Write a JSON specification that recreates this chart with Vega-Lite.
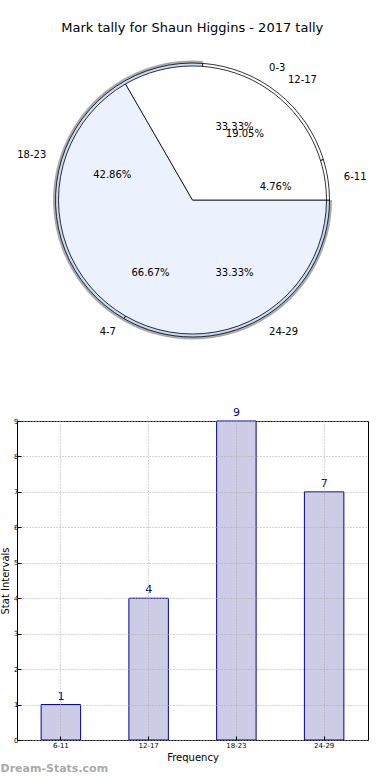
{
  "$schema": "https://vega.github.io/schema/vega-lite/v6.json",
  "padding": {"left": 0, "right": 20, "top": 22, "bottom": 0},
  "title": {"text": "Mark tally for Shaun Higgins - 2017 tally", "fontSize": 13, "fontWeight": "normal", "color": "#000", "anchor": "middle", "dx": 8, "offset": 8},
  "spacing": 49,
  "datasets": {
    "pie": [
      {"pie": "A", "label": "4-7", "ord": 1, "frac": 0.6667},
      {"pie": "A", "label": "0-3", "ord": 2, "frac": 0.3333},
      {"pie": "B", "label": "24-29", "ord": 1, "frac": 0.3333},
      {"pie": "B", "label": "18-23", "ord": 2, "frac": 0.4286},
      {"pie": "B", "label": "12-17", "ord": 3, "frac": 0.1905},
      {"pie": "B", "label": "6-11", "ord": 4, "frac": 0.0476}
    ],
    "bars": [
      {"interval": "6-11", "count": 1},
      {"interval": "12-17", "count": 4},
      {"interval": "18-23", "count": 9},
      {"interval": "24-29", "count": 7}
    ]
  },
  "vconcat": [
    {
      "width": 351,
      "height": 314,
      "view": {"stroke": null},
      "data": {"name": "pie"},
      "encoding": {
        "theta": {"field": "frac", "type": "quantitative", "stack": true, "scale": {"domain": [0, 1], "range": [1.5708, 7.854]}},
        "order": {"field": "ord", "type": "quantitative"}
      },
      "layer": [
        {
          "transform": [{"filter": "datum.pie == 'B'"}],
          "mark": {"type": "arc", "radius": 139.5, "fill": {"expr": "'#888888'"}},
          "encoding": {
            "fillOpacity": {"condition": {"test": "datum.label == '18-23' || datum.label == '24-29'", "value": 0.7}, "value": 0}
          }
        },
        {
          "transform": [{"filter": "datum.pie == 'B'"}],
          "mark": {"type": "arc", "radius": 137, "stroke": "#000", "strokeWidth": 0.8},
          "encoding": {
            "color": {"field": "label", "type": "nominal", "legend": null,
              "scale": {"domain": ["0-3", "4-7", "6-11", "12-17", "18-23", "24-29"], "range": ["#ffffff", "#ebf1fd", "#ffffff", "#ffffff", "#c6d9f7", "#c6d9f7"]}}
          }
        },
        {
          "transform": [{"filter": "datum.pie == 'A'"}],
          "mark": {"type": "arc", "radius": 134, "stroke": "#000", "strokeWidth": 0.8},
          "encoding": {
            "color": {"field": "label", "type": "nominal", "legend": null}
          }
        },
        {
          "transform": [{"filter": "datum.pie == 'A'"}],
          "mark": {"type": "text", "radius": 153, "align": {"expr": "datum.label == '4-7' ? 'right' : 'left'"}, "baseline": "middle", "fontSize": 10, "color": "#000"},
          "encoding": {"text": {"field": "label"}}
        },
        {
          "transform": [{"filter": "datum.pie == 'B'"}],
          "mark": {"type": "text", "radius": 153, "align": {"expr": "datum.label == '18-23' ? 'right' : 'left'"}, "baseline": "middle", "fontSize": 10, "color": "#000"},
          "encoding": {"text": {"field": "label"}}
        },
        {
          "transform": [{"filter": "datum.pie == 'A'"}],
          "mark": {"type": "text", "radius": 84, "align": "center", "baseline": "middle", "fontSize": 10, "color": "#000"},
          "encoding": {"text": {"field": "frac", "type": "quantitative", "format": ".2%"}}
        },
        {
          "transform": [{"filter": "datum.pie == 'B'"}],
          "mark": {"type": "text", "radius": 84, "align": "center", "baseline": "middle", "fontSize": 10, "color": "#000"},
          "encoding": {"text": {"field": "frac", "type": "quantitative", "format": ".2%"}}
        }
      ]
    },
    {
      "width": 351,
      "height": 319,
      "view": {"stroke": "#000", "strokeWidth": 1},
      "data": {"name": "bars"},
      "title": {"text": "Dream-Stats.com", "orient": "bottom", "anchor": "start", "frame": "bounds", "fontSize": 11, "fontWeight": "bold", "color": "#aaaaaa", "offset": 1},
      "encoding": {
        "x": {"field": "interval", "type": "nominal", "sort": null,
          "scale": {"paddingInner": 0.55, "paddingOuter": 0.275},
          "axis": {"title": "Frequency", "titleFontSize": 10, "titleFontWeight": "normal", "titleColor": "#000", "titlePadding": 4,
            "labelFontSize": 7, "labelColor": "#000", "labelAngle": 0, "labelPadding": 5,
            "grid": true, "gridDash": [1, 2], "gridColor": "#aaaaaa", "domain": false, "tickSize": -4, "tickColor": "#000", "zindex": 1}},
        "y": {"field": "count", "type": "quantitative",
          "scale": {"domain": [0, 9], "nice": false},
          "axis": {"title": "Stat Intervals", "titleFontSize": 10, "titleFontWeight": "normal", "titleColor": "#000", "titlePadding": 3,
            "values": [0, 1, 2, 3, 4, 5, 6, 7, 8, 9], "labelFontSize": 7, "labelColor": "#000", "labelPadding": 3,
            "grid": true, "gridDash": [1, 2], "gridColor": "#aaaaaa", "domain": false, "tickSize": -4, "tickColor": "#000", "zindex": 1}}
      },
      "layer": [
        {"mark": {"type": "bar", "fill": "#ccccE6", "stroke": "#00008b", "strokeWidth": 1}},
        {"mark": {"type": "text", "dy": -8, "color": "#00008b", "fontSize": 11}, "encoding": {"text": {"field": "count", "type": "quantitative"}}}
      ]
    }
  ],
  "config": {"font": "DejaVu Sans"}
}
